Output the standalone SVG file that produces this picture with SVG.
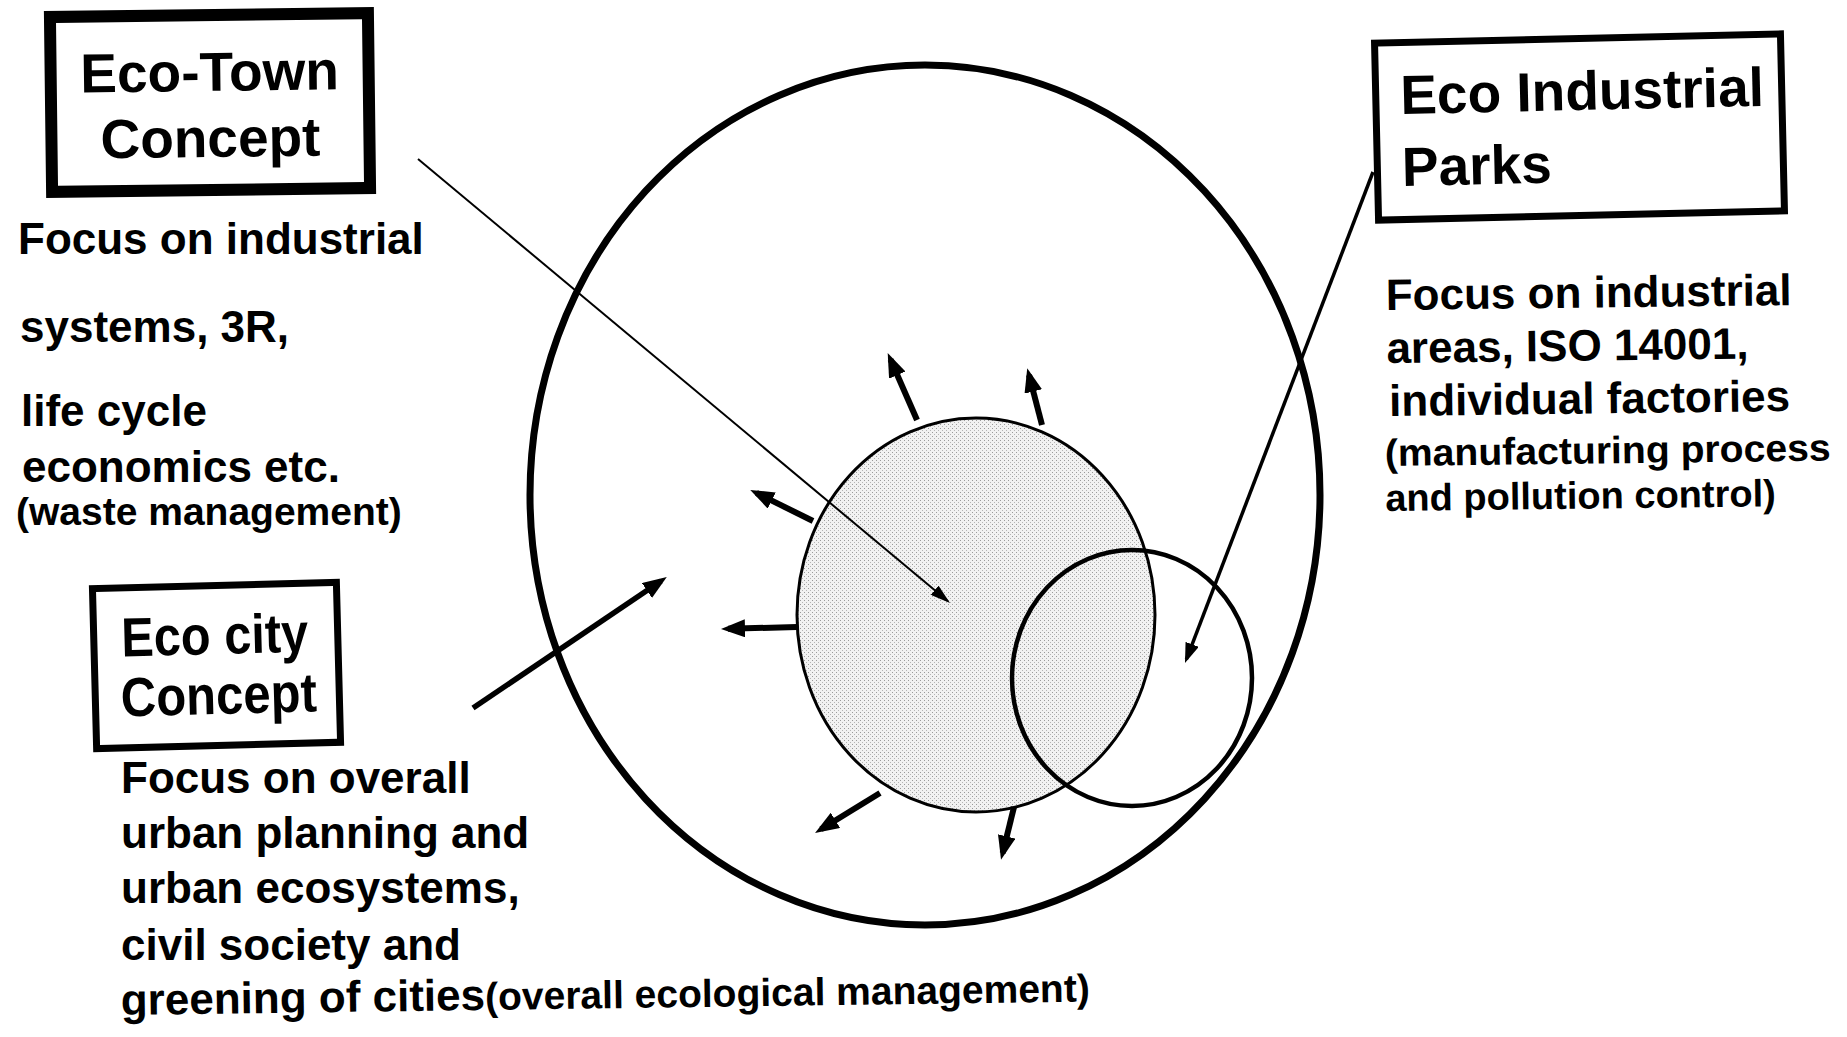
<svg xmlns="http://www.w3.org/2000/svg" width="1847" height="1037" viewBox="0 0 1847 1037">
<style>
.t{font-family:"Liberation Sans",Arial,sans-serif;font-weight:bold;fill:#000}
.title{font-size:55px}
.body{font-size:44px}
.sub{font-size:39px}
.sub2{font-size:38px}
.box{fill:#fff;stroke:#000}
.ln{stroke:#000;fill:none}
</style>
<defs>
<pattern id="stip" width="4" height="4" patternUnits="userSpaceOnUse">
<rect width="4" height="4" fill="#f2f2f2"/>
<rect x="0" y="0" width="1" height="1" fill="#9a9a9a"/>
<rect x="2" y="2" width="1" height="1" fill="#b5b5b5"/>
</pattern>
<marker id="big" viewBox="0 0 24 18" refX="17" refY="9" markerWidth="24" markerHeight="18" markerUnits="userSpaceOnUse" orient="auto">
<path d="M0,0 L24,9 L0,18 z" fill="#000"/>
</marker>
<marker id="mid" viewBox="0 0 20 14" refX="16" refY="7" markerWidth="20" markerHeight="14" markerUnits="userSpaceOnUse" orient="auto">
<path d="M0,0 L20,7 L0,14 z" fill="#000"/>
</marker>
<marker id="sm" viewBox="0 0 20 12" refX="17" refY="6" markerWidth="20" markerHeight="12" markerUnits="userSpaceOnUse" orient="auto">
<path d="M0,0 L20,6 L0,12 z" fill="#000"/>
</marker>
</defs>
<rect width="1847" height="1037" fill="#fff"/>

<g id="shapes">
<ellipse id="outer" cx="925" cy="495" rx="395" ry="430" class="ln" stroke-width="7"/>
<ellipse id="ecotown-core" cx="976" cy="615" rx="179" ry="197" fill="url(#stip)" stroke="#000" stroke-width="3"/>
<ellipse id="eip-circle" cx="1132" cy="678" rx="120" ry="128" class="ln" stroke-width="4.5"/>
</g>

<g id="connectors" class="ln">
<line x1="418" y1="159" x2="947.7" y2="601.1" stroke-width="2" marker-end="url(#sm)"/>
<line x1="1373" y1="172" x2="1186.4" y2="659.3" stroke-width="3.5" marker-end="url(#mid)"/>
<line x1="473" y1="708" x2="661" y2="581" stroke-width="5.5" marker-end="url(#big)"/>
<line x1="917" y1="420" x2="890.5" y2="359.5" stroke-width="6" marker-end="url(#big)"/>
<line x1="1042" y1="425" x2="1029" y2="375" stroke-width="6" marker-end="url(#big)"/>
<line x1="813" y1="521" x2="756.5" y2="493" stroke-width="6" marker-end="url(#big)"/>
<line x1="797" y1="627" x2="728" y2="628.8" stroke-width="6" marker-end="url(#big)"/>
<line x1="880" y1="793" x2="821" y2="829.3" stroke-width="6" marker-end="url(#big)"/>
<line x1="1014" y1="807" x2="1002.7" y2="853" stroke-width="6" marker-end="url(#big)"/>
</g>

<g id="eco-town" transform="rotate(-0.7 210 102)">
<rect class="box" x="51" y="15" width="318" height="175" stroke-width="12"/>
<text class="t title" x="210" y="91" text-anchor="middle">Eco-Town</text>
<text class="t title" x="210" y="157" text-anchor="middle">Concept</text>
</g>
<g id="eco-town-desc">
<text class="t body" x="18" y="254">Focus on industrial</text>
<text class="t body" x="20" y="342">systems, 3R,</text>
<text class="t body" x="21" y="426">life cycle</text>
<text class="t body" x="22" y="482">economics etc.</text>
<text class="t sub" x="16" y="525">(waste management)</text>
</g>

<g id="eco-industrial-parks" transform="rotate(-1.3 1580 127)">
<rect class="box" x="1376.5" y="38.5" width="406" height="177" stroke-width="7"/>
<text class="t title" x="1401" y="110">Eco Industrial</text>
<text class="t title" x="1401" y="182">Parks</text>
</g>
<g id="eip-desc" transform="rotate(-0.7 1386 310)">
<text class="t body" x="1386" y="310">Focus on industrial</text>
<text class="t body" x="1386" y="363">areas, ISO 14001,</text>
<text class="t body" x="1388" y="416">individual factories</text>
<text class="t sub2" x="1383" y="466" textLength="446" lengthAdjust="spacingAndGlyphs">(manufacturing process</text>
<text class="t sub2" x="1383" y="511">and pollution control)</text>
</g>

<g id="eco-city" transform="rotate(-1.5 216 665)">
<rect class="box" x="94.5" y="585.5" width="244" height="160" stroke-width="7"/>
<text class="t title" x="122" y="654" textLength="187" lengthAdjust="spacingAndGlyphs">Eco city</text>
<text class="t title" x="120" y="714" textLength="196" lengthAdjust="spacingAndGlyphs">Concept</text>
</g>
<g id="eco-city-desc">
<text class="t body" x="121" y="793">Focus on overall</text>
<text class="t body" x="121" y="848">urban planning and</text>
<text class="t body" x="121" y="903">urban ecosystems,</text>
<text class="t body" x="121" y="960">civil society and</text>
<text class="t body" x="121" y="1015" transform="rotate(-0.8 121 1015)">greening of cities<tspan class="sub">(overall ecological management)</tspan></text>
</g>
</svg>
